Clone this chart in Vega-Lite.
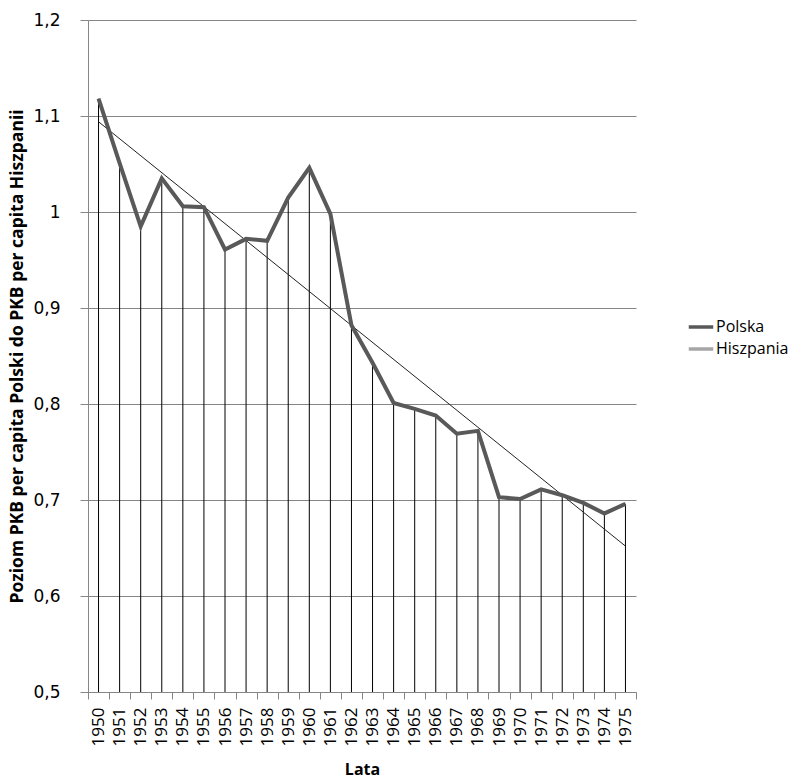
{
  "$schema": "https://vega.github.io/schema/vega-lite/v6.json",
  "width": 548,
  "height": 672,
  "autosize": "none",
  "padding": {"left": 88, "top": 20, "right": 174, "bottom": 91},
  "background": "white",
  "config": {
    "font": "Open Sans",
    "view": {"stroke": null},
    "axis": {
      "domainColor": "#868686",
      "tickColor": "#868686",
      "gridColor": "#868686",
      "labelColor": "#000",
      "titleColor": "#000",
      "labelFont": "Open Sans",
      "titleFont": "Open Sans"
    }
  },
  "datasets": {
    "gdp": [
      {"year": "1950", "ratio": 1.118},
      {"year": "1951", "ratio": 1.051},
      {"year": "1952", "ratio": 0.985},
      {"year": "1953", "ratio": 1.035},
      {"year": "1954", "ratio": 1.006},
      {"year": "1955", "ratio": 1.005},
      {"year": "1956", "ratio": 0.961},
      {"year": "1957", "ratio": 0.972},
      {"year": "1958", "ratio": 0.970},
      {"year": "1959", "ratio": 1.015},
      {"year": "1960", "ratio": 1.046},
      {"year": "1961", "ratio": 0.998},
      {"year": "1962", "ratio": 0.882},
      {"year": "1963", "ratio": 0.843},
      {"year": "1964", "ratio": 0.801},
      {"year": "1965", "ratio": 0.795},
      {"year": "1966", "ratio": 0.788},
      {"year": "1967", "ratio": 0.769},
      {"year": "1968", "ratio": 0.772},
      {"year": "1969", "ratio": 0.703},
      {"year": "1970", "ratio": 0.701},
      {"year": "1971", "ratio": 0.711},
      {"year": "1972", "ratio": 0.705},
      {"year": "1973", "ratio": 0.697},
      {"year": "1974", "ratio": 0.686},
      {"year": "1975", "ratio": 0.696}
    ],
    "trend": [
      {"year": "1950", "ratio": 1.094},
      {"year": "1975", "ratio": 0.652}
    ]
  },
  "layer": [
    {
      "data": {"name": "gdp"},
      "mark": {"type": "rule", "color": "#000", "strokeWidth": 1},
      "encoding": {
        "x": {
          "field": "year",
          "type": "ordinal",
          "scale": {"paddingInner": 0, "paddingOuter": 0},
          "axis": {
            "title": "Lata",
            "titleFontSize": 16,
            "titleFontWeight": "bold",
            "titlePadding": 16,
            "labelAngle": -90,
            "labelAlign": "right",
            "labelBaseline": "middle",
            "labelFontSize": 17,
            "labelPadding": 8,
            "tickSize": 7,
            "tickBand": "extent",
            "grid": false
          }
        },
        "y": {
          "field": "ratio",
          "type": "quantitative",
          "scale": {"domain": [0.5, 1.2], "nice": false, "zero": false},
          "axis": {
            "title": "Poziom PKB per capita Polski do PKB per capita Hiszpanii",
            "titleFontSize": 17.5,
            "titleFontWeight": "bold",
            "titlePadding": 6,
            "values": [0.5, 0.6, 0.7, 0.8, 0.9, 1.0, 1.1, 1.2],
            "labelExpr": "replace(format(datum.value, '.1~f'), '.', ',')",
            "labelFont": "DejaVu Sans",
            "labelFontSize": 17,
            "labelPadding": 20,
            "tickSize": 8,
            "grid": true
          }
        },
        "y2": {"datum": 0.5}
      }
    },
    {
      "data": {"name": "trend"},
      "mark": {"type": "line", "color": "#222", "strokeWidth": 1},
      "encoding": {
        "x": {"field": "year", "type": "ordinal"},
        "y": {"field": "ratio", "type": "quantitative"}
      }
    },
    {
      "data": {"name": "gdp"},
      "mark": {"type": "line", "strokeWidth": 4, "strokeJoin": "miter"},
      "encoding": {
        "x": {"field": "year", "type": "ordinal"},
        "y": {"field": "ratio", "type": "quantitative"},
        "color": {
          "datum": "Polska",
          "scale": {"domain": ["Polska", "Hiszpania"], "range": ["#595959", "#a6a6a6"]},
          "legend": {
            "title": null,
            "orient": "none",
            "legendX": 599,
            "legendY": 293,
            "symbolType": "stroke",
            "symbolStrokeWidth": 3.5,
            "symbolSize": 600,
            "labelFontSize": 16,
            "labelFont": "Open Sans",
            "labelColor": "#000",
            "labelOffset": 1,
            "rowPadding": 0
          }
        }
      }
    }
  ]
}
